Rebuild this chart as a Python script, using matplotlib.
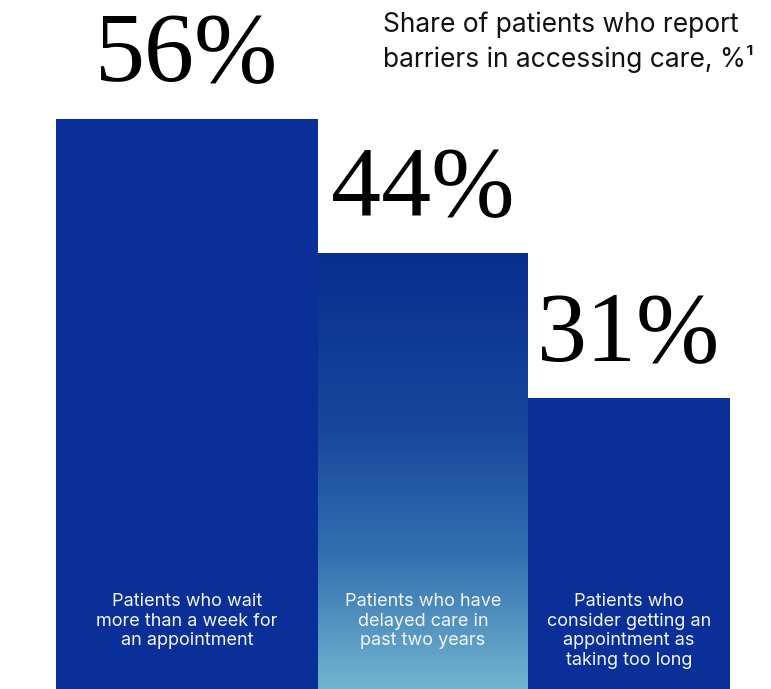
import numpy as np
import matplotlib.pyplot as plt
from matplotlib.colors import LinearSegmentedColormap
from matplotlib.transforms import blended_transform_factory

# share of patients reporting each barrier, %
values = [56, 44, 31]
value_labels = ['56%', '44%', '31%']
categories = [
    'Patients who wait\nmore than a week for\nan appointment',
    'Patients who have\ndelayed care in\npast two years',
    'Patients who\nconsider getting an\nappointment as\ntaking too long',
]
title = 'Share of patients who report\nbarriers in accessing care, %\u00b9'

# layout (pixel-like x units across the 771 px canvas)
bar_lefts = [56, 318, 528]
bar_widths = [262, 210, 202]
navy = '#0b2f98'

fig = plt.figure(figsize=(7.71, 6.89), dpi=100)
ax = fig.add_axes([0, 0, 1, 1])
xlim = (0, 771)
ylim = (4.97, 66.65)
ax.set_xlim(*xlim)
ax.set_ylim(*ylim)
ax.axis('off')

bars = ax.bar(bar_lefts, values, width=bar_widths, align='edge',
              color=navy, linewidth=0)

# middle bar fades from navy at the top to a light sky blue at the bottom
mid = bars[1]
mid.set_facecolor('none')
fade = LinearSegmentedColormap.from_list(
    'fade', [(0.0, '#072f8f'), (0.4, '#17479c'), (0.7, '#3471b0'),
             (1.0, '#72b4d0')])
grad = np.linspace(1, 0, 256).reshape(-1, 1)
im = ax.imshow(grad, cmap=fade, aspect='auto', interpolation='bicubic',
               origin='lower',
               extent=(mid.get_x(), mid.get_x() + mid.get_width(),
                       ylim[0], mid.get_height()), zorder=1)
im.set_clip_path(mid)
ax.set_xlim(*xlim)
ax.set_ylim(*ylim)

# big value labels over each bar
for b, lab in zip(bars, value_labels):
    ax.annotate(lab, (b.get_x() + b.get_width() / 2, b.get_height()),
                xytext=(0, 12), textcoords='offset points',
                ha='center', va='bottom', fontsize=72,
                family='Liberation Serif', color='black')

# category captions near the bottom of the bars
trans = blended_transform_factory(ax.transData, ax.transAxes)
for b, cat in zip(bars, categories):
    ax.text(b.get_x() + b.get_width() / 2, 0.139, cat, transform=trans,
            ha='center', va='top', fontsize=13, family='Inter',
            color='#f4f6fb', linespacing=1.2, zorder=3)

fig.text(383 / 771, 1 - 12 / 689, title, ha='left', va='top',
         fontsize=19, family='Inter', color='#111111', linespacing=1.3)

fig.savefig('out.png', dpi=100)
